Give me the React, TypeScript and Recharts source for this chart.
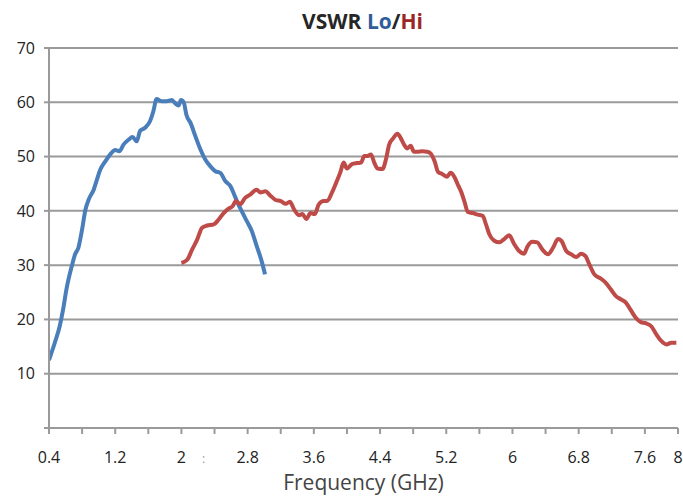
import React from "react";
import { LineChart, Line, XAxis, YAxis, CartesianGrid } from "recharts";

// VSWR, low band (GHz, value)
const loFreq = [
  0.4, 0.47, 0.53, 0.57, 0.61, 0.675, 0.715, 0.755, 0.8, 0.84, 0.88, 0.94, 0.98,
  1.02, 1.08, 1.14, 1.2, 1.25, 1.3, 1.36, 1.41, 1.46, 1.5, 1.56, 1.62, 1.66,
  1.7, 1.76, 1.82, 1.885, 1.925, 1.965, 1.995, 2.03, 2.06, 2.11, 2.17, 2.23,
  2.29, 2.35, 2.41, 2.47, 2.53, 2.59, 2.63, 2.67, 2.73, 2.79, 2.85, 2.91, 2.97,
  3.01,
];
const loVswr = [
  12.5, 15.7, 18.8, 21.8, 25.5, 29.8, 32, 33.2, 36.6, 40.2, 42.1, 43.9, 45.8,
  47.6, 49.1, 50.4, 51.2, 51.0, 52.2, 53.1, 53.6, 52.8, 54.7, 55.3, 56.5, 58.3,
  60.6, 60.2, 60.2, 60.4, 59.8, 59.4, 60.4, 59.9, 57.7, 56.2, 53.7, 51.3,
  49.4, 48.2, 47.3, 47.0, 45.5, 44.6, 43.3, 41.8, 39.9, 38.1, 36.3, 33.5, 30.7,
  28.3,
];

// VSWR, high band
const hiFreq = [
  2.0, 2.07, 2.13, 2.19, 2.25, 2.31, 2.39, 2.45, 2.51, 2.57, 2.62, 2.66, 2.71,
  2.77, 2.83, 2.91, 2.955, 3.015, 3.075, 3.14, 3.2, 3.26, 3.31, 3.36, 3.42,
  3.46, 3.51, 3.56, 3.61, 3.66, 3.72, 3.76, 3.82, 3.87, 3.92, 3.96, 4.0, 4.06,
  4.12, 4.17, 4.21, 4.25, 4.29, 4.33, 4.37, 4.43, 4.47, 4.51, 4.56, 4.61, 4.65,
  4.69, 4.73, 4.77, 4.81, 4.85, 4.91, 4.97, 5.01, 5.06, 5.1, 5.15, 5.21, 5.25,
  5.3, 5.34, 5.38, 5.42, 5.46, 5.52, 5.58, 5.64, 5.68, 5.72, 5.78, 5.84, 5.9,
  5.96, 6.02, 6.08, 6.14, 6.18, 6.24, 6.3, 6.36, 6.43, 6.49, 6.55, 6.59, 6.65,
  6.71, 6.77, 6.83, 6.88, 6.93, 6.99, 7.07, 7.13, 7.19, 7.25, 7.31, 7.37, 7.43,
  7.49, 7.55, 7.61, 7.68, 7.74, 7.8, 7.86, 7.92, 7.98,
];
const hiVswr = [
  30.4, 31.0, 32.9, 34.7, 36.9, 37.3, 37.5, 38.4, 39.6, 40.4, 40.9, 41.8, 41.2,
  42.4, 43.0, 43.9, 43.4, 43.6, 42.8, 42.0, 41.8, 41.3, 41.7, 40.3, 39.2,
  39.4, 38.5, 39.6, 39.4, 41.2, 41.8, 41.8, 43.4, 45.2, 47.1, 48.9, 47.8, 48.6,
  48.8, 48.9, 50.1, 50.1, 50.4, 48.9, 47.8, 47.7, 49.4, 52.2, 53.4, 54.2, 53.4,
  52.2, 51.5, 52.0, 50.9, 50.9, 51.0, 50.9, 50.6, 49.1, 47.2, 46.8, 46.3, 47.0,
  46.2, 44.8, 43.5, 41.7, 39.8, 39.6, 39.3, 39.1, 37.5, 35.7, 34.5, 34.2, 34.8,
  35.5, 33.9, 32.6, 32.1, 33.4, 34.3, 34.2, 32.9, 32.0, 33.2, 34.8, 34.5, 32.6,
  32.0, 31.5, 32.1, 31.7, 30.1, 28.3, 27.5, 26.7, 25.5, 24.3, 23.7, 23.1, 21.7,
  20.3, 19.5, 19.3, 18.7, 17.2, 16.0, 15.4, 15.7, 15.7,
];

const xTicks = [
  0.4, 0.8, 1.2, 1.6, 2, 2.4, 2.8, 3.2, 3.6, 4, 4.4, 4.8, 5.2, 5.6, 6, 6.4, 6.8,
  7.2, 7.6, 8,
];
const xLabels = [
  "0.4", "", "1.2", "", "2", ":", "2.8", "", "3.6", "", "4.4", "", "5.2", "",
  "6", "", "6.8", "", "7.6", "8",
];
const yTicks = [0, 10, 20, 30, 40, 50, 60, 70];
const yLabels = ["", "10", "20", "30", "40", "50", "60", "70"];

const loData = loFreq.map((f, i) => ({ f, v: loVswr[i] }));
const hiData = hiFreq.map((f, i) => ({ f, v: hiVswr[i] }));

const FONT = "'Open Sans', sans-serif";
const AXIS = "#9a9a9a";

const XTick = (props: any) => {
  const { x, y, index } = props;
  const label = xLabels[index];
  if (!label) return null;
  const faint = label === ":";
  return (
    <text
      x={faint ? x - 11 : x}
      y={y}
      dy={27}
      textAnchor="middle"
      fontFamily={FONT}
      fontSize={faint ? 12 : 16}
      fill={faint ? "#999" : "#222"}
    >
      {label}
    </text>
  );
};

export default function App() {
  return (
    <div
      style={{
        position: "absolute",
        left: 0,
        top: 0,
        width: 683,
        height: 498,
        background: "#fff",
      }}
    >
      <div
        style={{
          position: "absolute",
          top: 7,
          left: 0,
          width: 725,
          textAlign: "center",
          fontFamily: FONT,
          fontWeight: 700,
          fontSize: 21,
          color: "#262626",
        }}
      >
        VSWR <span style={{ color: "#2F5D9B" }}>Lo</span>/
        <span style={{ color: "#9C2626" }}>Hi</span>
      </div>
      <LineChart
        width={683}
        height={498}
        margin={{ top: 48, right: 5, bottom: 0, left: 0 }}
      >
        <CartesianGrid vertical={false} stroke={AXIS} strokeWidth={2} />
        <XAxis
          type="number"
          dataKey="f"
          domain={[0.4, 8]}
          ticks={xTicks}
          interval={0}
          allowDataOverflow
          height={70}
          stroke={AXIS}
          strokeWidth={2}
          tickSize={6}
          tick={<XTick />}
          label={{
            value: "Frequency (GHz)",
            position: "insideBottom",
            offset: 8,
            fontFamily: FONT,
            fontSize: 21,
            fill: "#444",
          }}
        />
        <YAxis
          type="number"
          domain={[0, 70]}
          ticks={yTicks}
          interval={0}
          width={49}
          stroke={AXIS}
          strokeWidth={2}
          tickSize={5}
          tickMargin={9}
          tickFormatter={(v: number) => yLabels[yTicks.indexOf(v)]}
          tick={{ fontFamily: FONT, fontSize: 16, fill: "#222" }}
        />
        <Line
          data={loData}
          dataKey="v"
          type="monotone"
          stroke="#4A7EBB"
          strokeWidth={4}
          dot={false}
          isAnimationActive={false}
        />
        <Line
          data={hiData}
          dataKey="v"
          type="monotone"
          stroke="#BE4B48"
          strokeWidth={4}
          dot={false}
          isAnimationActive={false}
        />
      </LineChart>
    </div>
  );
}
